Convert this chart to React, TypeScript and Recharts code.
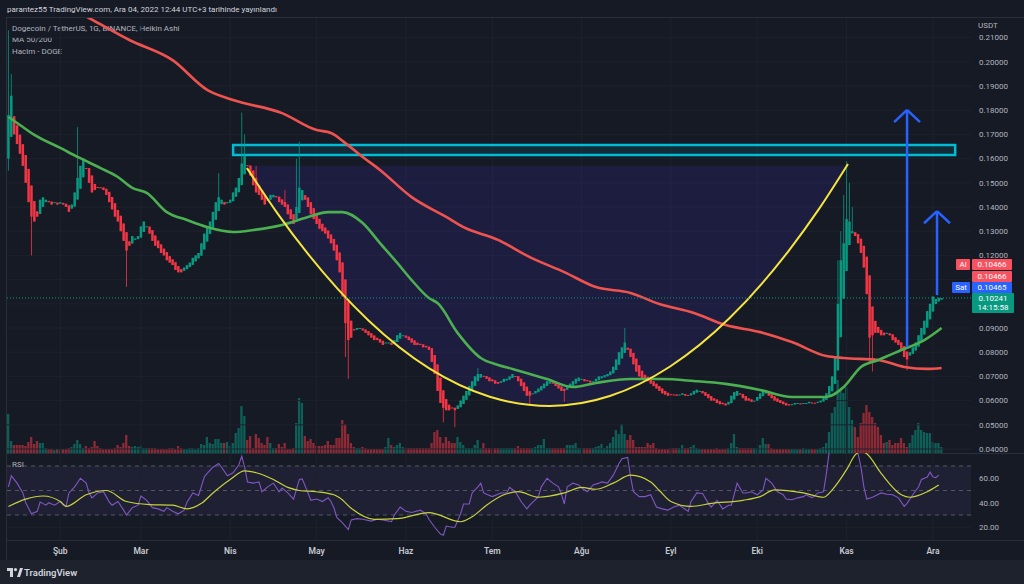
import React from 'react'
import { ComposedChart, Bar, Line, Area, XAxis, YAxis, ReferenceLine, ReferenceArea, Cell } from 'recharts'

// day index = days since 1 Jan 2022; first candle 14 Jan (13), last 4 Dec (337)
const FIRST_DAY = 13
const FIRST_OPEN = 0.16

// Heikin Ashi closes, one per day
const CLOSES = [
  0.178, 0.186, 0.170, 0.166, 0.162, 0.157, 0.150, 0.142, 0.136, 0.134,
  0.136, 0.143, 0.144, 0.143, 0.142, 0.141, 0.142, 0.141, 0.142, 0.141,
  0.140, 0.138, 0.141, 0.146, 0.152, 0.157, 0.160, 0.156, 0.150, 0.146,
  0.147, 0.148, 0.148, 0.147, 0.145, 0.142, 0.139, 0.136, 0.134, 0.130,
  0.126, 0.122, 0.124, 0.128, 0.127, 0.128, 0.132, 0.134, 0.132, 0.129,
  0.126, 0.124, 0.123, 0.121, 0.120, 0.118, 0.117, 0.116, 0.114, 0.113,
  0.113, 0.115, 0.116, 0.117, 0.119, 0.120, 0.121, 0.125, 0.129, 0.132,
  0.134, 0.138, 0.142, 0.144, 0.143, 0.141, 0.142, 0.143, 0.146, 0.148,
  0.152, 0.158, 0.161, 0.157, 0.153, 0.149, 0.146, 0.145, 0.143, 0.141,
  0.143, 0.145, 0.145, 0.144, 0.142, 0.141, 0.140, 0.137, 0.135, 0.133,
  0.140, 0.148, 0.147, 0.143, 0.140, 0.137, 0.135, 0.133, 0.131, 0.130,
  0.129, 0.127, 0.125, 0.122, 0.118, 0.113, 0.103, 0.092, 0.085, 0.086,
  0.089, 0.090, 0.090, 0.089, 0.088, 0.087, 0.086, 0.085, 0.085, 0.084,
  0.083, 0.084, 0.084, 0.083, 0.085, 0.087, 0.088, 0.087, 0.086, 0.085,
  0.084, 0.083, 0.083, 0.083, 0.082, 0.082, 0.081, 0.076, 0.071, 0.064,
  0.059, 0.057, 0.056, 0.056, 0.057, 0.056, 0.058, 0.060, 0.062, 0.064,
  0.066, 0.068, 0.070, 0.071, 0.071, 0.070, 0.069, 0.068, 0.068, 0.067,
  0.067, 0.068, 0.069, 0.069, 0.070, 0.071, 0.070, 0.068, 0.066, 0.064,
  0.062, 0.062, 0.063, 0.064, 0.065, 0.066, 0.067, 0.068, 0.068, 0.067,
  0.066, 0.065, 0.064, 0.064, 0.066, 0.067, 0.068, 0.069, 0.0695, 0.069,
  0.068, 0.068, 0.0675, 0.068, 0.069, 0.070, 0.070, 0.0705, 0.071, 0.072,
  0.074, 0.077, 0.080, 0.082, 0.084, 0.081, 0.078, 0.075, 0.072, 0.070,
  0.069, 0.069, 0.068, 0.067, 0.066, 0.065, 0.064, 0.063, 0.0625, 0.062,
  0.0625, 0.0625, 0.062, 0.0625, 0.063, 0.062, 0.062, 0.063, 0.064, 0.0645,
  0.064, 0.063, 0.062, 0.061, 0.060, 0.060, 0.059, 0.0585, 0.0585, 0.058,
  0.0595, 0.062, 0.0635, 0.064, 0.0625, 0.061, 0.060, 0.060, 0.0595, 0.060,
  0.0615, 0.063, 0.064, 0.0635, 0.062, 0.061, 0.060, 0.0595, 0.059, 0.0585,
  0.058, 0.058, 0.0585, 0.059, 0.059, 0.0585, 0.059, 0.059, 0.0595, 0.059,
  0.059, 0.0595, 0.060, 0.061, 0.063, 0.066, 0.070, 0.078, 0.100, 0.118,
  0.125, 0.135, 0.134, 0.130, 0.128, 0.125, 0.121, 0.115, 0.104, 0.086,
  0.087, 0.088, 0.088, 0.087, 0.087, 0.088, 0.087, 0.085, 0.084, 0.083,
  0.081, 0.078, 0.077, 0.080, 0.082, 0.084, 0.087, 0.090, 0.093, 0.097,
  0.100, 0.103, 0.102, 0.1025, 0.10241,
]

// volume, in units of ~1px of pane height
const VOLUMES = [
  39, 12, 8, 8, 8, 8, 7, 11, 16, 9,
  12, 10, 10, 5, 4, 4, 3, 4, 4, 4,
  4, 5, 6, 9, 13, 9, 5, 7, 5, 6,
  12, 7, 5, 4, 4, 4, 4, 5, 8, 6,
  10, 18, 7, 6, 7, 6, 7, 5, 5, 5,
  5, 5, 4, 4, 4, 4, 5, 5, 4, 7,
  5, 4, 4, 5, 5, 4, 5, 9, 8, 16,
  10, 9, 14, 14, 10, 10, 11, 7, 10, 20,
  25, 47, 37, 13, 17, 5, 19, 15, 10, 8,
  16, 10, 5, 5, 9, 6, 10, 4, 4, 5,
  30, 55, 50, 17, 12, 14, 10, 7, 7, 7,
  8, 12, 8, 8, 15, 15, 33, 29, 19, 10,
  6, 5, 5, 6, 5, 4, 4, 4, 4, 4,
  4, 6, 15, 8, 6, 8, 10, 6, 5, 5,
  5, 5, 5, 5, 5, 5, 5, 10, 21, 23,
  16, 10, 16, 12, 10, 10, 16, 11, 8, 5,
  5, 5, 8, 13, 5, 10, 5, 5, 5, 5,
  5, 5, 5, 5, 5, 5, 5, 7, 5, 5,
  5, 5, 5, 6, 8, 8, 14, 5, 5, 5,
  5, 5, 5, 5, 8, 8, 8, 10, 5, 5,
  5, 5, 5, 5, 6, 7, 9, 5, 7, 10,
  16, 23, 19, 29, 19, 13, 18, 13, 6, 6,
  6, 6, 10, 8, 10, 5, 4, 4, 4, 4,
  5, 5, 5, 5, 8, 5, 5, 6, 8, 5,
  4, 4, 4, 4, 4, 4, 5, 4, 4, 4,
  5, 10, 19, 6, 5, 5, 5, 5, 5, 5,
  5, 8, 15, 9, 9, 5, 4, 4, 4, 4,
  4, 4, 4, 4, 4, 4, 5, 4, 4, 4,
  4, 4, 5, 6, 10, 21, 40, 46, 73, 63,
  60, 66, 46, 33, 26, 16, 30, 40, 48, 41,
  36, 30, 26, 18, 10, 11, 13, 8, 10, 10,
  15, 10, 6, 10, 18, 23, 30, 23, 21, 20,
  20, 11, 10, 10, 6,
]

// notable wicks [day, price]
const WICK_HIGH = [
  [13, 0.213], [14, 0.195], [37, 0.173], [86, 0.154], [94, 0.179], [95, 0.170], [99, 0.157],
  [109, 0.147], [113, 0.160], [114, 0.167], [176, 0.0735], [227, 0.090], [301, 0.118],
  [302, 0.130], [303, 0.145], [304, 0.159], [305, 0.150], [306, 0.140],
]
const WICK_LOW = [
  [13, 0.155], [21, 0.120], [54, 0.107], [130, 0.078], [131, 0.069], [164, 0.051],
  [168, 0.049], [194, 0.058], [206, 0.0595], [312, 0.075], [313, 0.072], [325, 0.0725],
]

const MA50 = [
  [13, 0.1772], [17, 0.1739], [22, 0.1698], [31, 0.1644], [37, 0.1607], [45, 0.1561], [51, 0.1524],
  [56, 0.1479], [61, 0.1458], [68, 0.1379], [75, 0.1346], [82, 0.1317], [91, 0.1297], [98, 0.1305],
  [108, 0.1326], [117, 0.1359], [124, 0.1379], [129, 0.1379], [136, 0.1334], [142, 0.1251],
  [148, 0.1169], [153, 0.1098], [159, 0.1024], [162, 0.1003], [169, 0.0879], [177, 0.0776],
  [183, 0.0747], [188, 0.0731], [200, 0.0689], [209, 0.0656], [217, 0.0673], [229, 0.0689],
  [240, 0.0689], [251, 0.0681], [262, 0.0669], [274, 0.0644], [285, 0.0615], [297, 0.0615],
  [303, 0.0656], [309, 0.0739], [315, 0.0768], [323, 0.0809], [331, 0.085], [337, 0.09],
]

const MA200 = [
  [13, 0.236], [27, 0.227], [41, 0.2181], [55, 0.209], [70, 0.2007], [82, 0.1884], [91, 0.1842],
  [108, 0.1788], [120, 0.1718], [125, 0.1706], [130, 0.1664], [136, 0.1607], [142, 0.1553],
  [153, 0.1441], [165, 0.1359], [171, 0.1317], [183, 0.1264], [194, 0.1193], [206, 0.1131],
  [217, 0.1069], [229, 0.1045], [239, 0.0999], [251, 0.0962], [262, 0.0912], [274, 0.0883],
  [285, 0.0842], [297, 0.0784], [303, 0.0776], [315, 0.0768], [324, 0.0739], [332, 0.0731],
  [337, 0.0735],
]

const RSI = [
  [13, 53], [14, 62], [16, 56], [18, 48], [19, 40], [21, 31], [23, 33], [24, 40.5], [26, 38],
  [27, 40], [29, 38], [31, 41], [33, 37], [34, 48], [36, 53], [38, 60], [40, 56], [41, 48],
  [42, 44], [44, 48], [46, 49], [48, 40.5], [49, 38], [51, 41], [53, 34], [54, 30], [56, 36],
  [58, 38], [59, 45.5], [61, 42], [63, 36], [65, 35], [67, 33], [68, 36], [70, 33], [72, 31],
  [74, 34], [75, 40.5], [77, 48], [79, 46], [81, 61], [82, 64], [84, 69], [86, 72], [87, 69],
  [89, 62], [91, 64.5], [93, 71], [94, 78], [95, 69], [96, 57], [98, 56], [100, 57], [101, 49],
  [103, 53], [105, 56], [107, 49], [108, 52], [110, 48], [112, 43], [114, 59], [115, 59.5],
  [117, 48], [118, 42], [120, 43], [122, 41], [124, 44], [125, 41], [126, 36], [127, 28],
  [129, 23.5], [131, 18], [132, 26], [134, 27], [136, 26.5], [139, 25], [141, 26.5], [143, 26],
  [146, 24.5], [147, 30], [149, 36.5], [151, 33], [153, 32], [156, 34], [158, 31], [159, 26.5],
  [161, 20], [163, 14.5], [164, 13.5], [165, 21], [167, 20], [168, 20], [170, 31], [171, 39],
  [173, 39], [174, 48], [176, 53], [177, 56], [178, 48], [180, 46], [181, 45], [184, 48],
  [186, 48], [187, 52.5], [189, 49], [191, 41], [193, 35], [194, 38], [197, 45], [198, 53],
  [200, 60], [202, 56], [204, 53], [205, 47], [206, 39], [207, 53], [209, 56], [211, 54.5],
  [212, 52], [214, 49], [216, 54.5], [218, 56], [219, 57], [221, 56], [223, 62.5], [225, 72],
  [226, 76], [228, 77], [229, 61], [230, 49], [232, 45], [234, 45], [236, 46.5], [238, 36.5],
  [240, 35], [242, 34], [244, 36.5], [246, 38], [249, 33], [250, 41], [252, 48], [254, 47.5],
  [256, 39.5], [257, 36.5], [259, 42], [261, 35], [263, 38], [264, 38], [266, 56], [268, 48],
  [269, 48], [271, 49], [273, 46.5], [275, 50.5], [276, 60], [278, 56], [280, 49], [282, 46.5],
  [283, 43], [285, 42.5], [287, 44], [289, 45], [290, 46.5], [292, 44], [294, 48], [296, 49],
  [297, 64], [298, 82], [299, 86], [300, 89], [301, 91], [302, 92], [303, 93], [304, 92],
  [305, 90], [306, 87], [307, 84], [308, 80], [309, 69], [310, 53], [311, 43], [313, 44.5],
  [316, 48], [318, 47], [320, 46.5], [322, 44], [324, 37], [325, 39.5], [327, 46.5], [329, 53],
  [330, 59], [332, 61], [333, 65], [334, 61], [335, 60.5], [336, 62.5],
]

const RSI_MA = [
  [13, 37], [19, 43], [25, 45.5], [31, 41], [33, 37], [40, 46.5], [47, 50], [54, 41], [62, 38.5],
  [70, 38], [75, 35], [80, 39.5], [84, 48], [90, 59], [95, 66], [99, 64.5], [105, 59], [110, 52.5],
  [114, 50], [120, 49], [126, 46.5], [128, 44], [132, 35.5], [140, 26.5], [148, 27], [159, 32],
  [170, 24.5], [174, 28.5], [179, 38], [185, 46.5], [190, 49], [197, 44.5], [206, 48], [212, 52.5],
  [217, 51], [223, 56], [229, 62.5], [236, 57], [239, 50], [243, 41], [250, 37], [257, 39.5],
  [268, 42], [274, 45], [279, 50.5], [289, 48], [296, 44.5], [299, 50.5], [304, 67], [307, 79],
  [309, 82], [311, 80], [316, 64], [323, 46.5], [326, 44.5], [332, 49], [336, 54.5],
]

// cup drawing, points read along the yellow arc [day, price]
const CUP = [
  [95.8, 0.1561], [106.4, 0.1374], [117.0, 0.1206], [138.1, 0.093], [159.1, 0.0733],
  [180.1, 0.0616], [200.9, 0.0578], [221.8, 0.0619], [242.6, 0.074], [263.3, 0.094],
  [283.9, 0.1219], [294.2, 0.1388], [304.5, 0.1578],
]
const CUP_TOP = 0.157

const BOX = { from: 91, to: 341.7, low: 0.1615, high: 0.1656 }
const ARROWS = [
  { d: 325, from: 0.0821, to: 0.1801, wing: 4.5, drop: 0.005 },
  { d: 335.4, from: 0.1036, to: 0.1383, wing: 4.5, drop: 0.005 },
]
const LAST_PRICE = 0.10241

const MONTH_DAYS = [31, 59, 90, 120, 151, 181, 212, 243, 273, 304, 334]
const MONTH_LABELS = ['Şub', 'Mar', 'Nis', 'May', 'Haz', 'Tem', 'Ağu', 'Eyl', 'Eki', 'Kas', 'Ara']
const PRICE_TICKS = [0.04, 0.05, 0.06, 0.07, 0.08, 0.09, 0.1, 0.11, 0.12, 0.13, 0.14, 0.15, 0.16, 0.17, 0.18, 0.19, 0.2, 0.21]
const PRICE_LABELS = [0.04, 0.05, 0.06, 0.07, 0.08, 0.09, 0.12, 0.13, 0.14, 0.15, 0.16, 0.17, 0.18, 0.19, 0.2, 0.21]
const RSI_TICKS = [20, 40, 60]

const X_MIN = 12.5
const X_MAX = 347.2
const P_MIN = 0.03835
const P_MAX = 0.2181
const RSI_MIN = 9.6
const RSI_MAX = 80.6

const BG = '#161a25'
const GRID = '#1e222d'
const BORDER = '#2a2e39'
const TEXT = '#b2b5be'
const UP = '#089981'
const DOWN = '#f23645'
const FONT = 'Roboto, "Noto Sans", sans-serif'

const highs = new Map(WICK_HIGH.map(([d, v]) => [d, v]))
const lows = new Map(WICK_LOW.map(([d, v]) => [d, v]))
const candles: any[] = []
CLOSES.forEach((close, i) => {
  const prev = candles[i - 1]
  const open = prev ? (prev.open + prev.close) / 2 : FIRST_OPEN
  const d = FIRST_DAY + i
  const high = Math.max(open, close, highs.get(d) ?? 0)
  const low = Math.min(open, close, lows.get(d) ?? 1)
  candles.push({ d, open, close, high, low, vol: VOLUMES[i], up: close >= open })
})

const pairs = (list: number[][]) => list.map(([d, v]) => ({ d, v }))
const cupData = CUP.map(([d, p]) => ({ d, v: p, band: [p, CUP_TOP] }))

function Candle(props: any) {
  const { x, y, width, height, payload } = props
  if (!payload || x == null || y == null) return null
  let top = y
  let h = height || 0
  if (h < 0) {
    top = y + h
    h = -h
  }
  const span = payload.high - payload.low
  const k = span > 0 ? h / span : 0
  const cx = x + width / 2
  const yO = top + (payload.high - payload.open) * k
  const yC = top + (payload.high - payload.close) * k
  const color = payload.up ? UP : DOWN
  return (
    <g>
      <line x1={cx} x2={cx} y1={top} y2={top + h} stroke={color} strokeWidth={1} strokeOpacity={0.8} />
      <rect x={cx - 1.25} y={Math.min(yO, yC)} width={2.5} height={Math.max(1, Math.abs(yO - yC))} fill={color} />
    </g>
  )
}

function AxisTick({ x, y, payload, digits }: any) {
  return (
    <text x={x} y={y} dy="0.35em" fill={TEXT} fontSize={8} fontFamily={FONT} textAnchor="start">
      {Number(payload.value).toFixed(digits)}
    </text>
  )
}

function MonthTick({ x, y, payload }: any) {
  const i = MONTH_DAYS.indexOf(payload.value)
  return (
    <text x={x} y={y + 3} dy="0.35em" fill="#c5c8d0" fontSize={8.5} fontWeight={600} fontFamily={FONT} textAnchor="middle">
      {MONTH_LABELS[i]}
    </text>
  )
}

function Badge({ x, y, w, h, fill, lines }: any) {
  return (
    <g>
      <rect x={x} y={y} width={w} height={h} fill={fill} rx={1} />
      {lines.map((t: string, i: number) => (
        <text key={i} x={x + w / 2} y={y + 5.5 + i * 9} dy="0.35em" fill="#ffffff" fontSize={8} fontFamily={FONT} textAnchor="middle">
          {t}
        </text>
      ))}
    </g>
  )
}

function PriceBadges({ viewBox }: any) {
  if (!viewBox) return null
  const right = viewBox.x + viewBox.width
  const y = viewBox.y
  return (
    <g>
      <Badge x={right - 15} y={y - 39} w={14} h={11} fill="#f7525f" lines={['Al']} />
      <Badge x={right + 1} y={y - 39} w={40} h={11} fill="#f7525f" lines={['0.10466']} />
      <Badge x={right + 1} y={y - 27} w={40} h={11} fill="#f7525f" lines={['0.10466']} />
      <Badge x={right - 19} y={y - 16} w={18} h={11} fill="#2962ff" lines={['Sat']} />
      <Badge x={right + 1} y={y - 16} w={40} h={11} fill="#2962ff" lines={['0.10465']} />
      <Badge x={right + 1} y={y - 5} w={42} h={20} fill={UP} lines={['0.10241', '14:15:58']} />
    </g>
  )
}

export default function App() {
  const textBase: any = { position: 'absolute', fontFamily: FONT, whiteSpace: 'nowrap' }
  return (
    <div style={{ position: 'fixed', left: 0, top: 0, width: 1024, height: 584, background: BG, overflow: 'hidden' }}>
      <div style={{ ...textBase, left: 7, top: 5, fontSize: 8, lineHeight: '10px', color: '#d1d4dc' }}>
        parantez55 TradingView.com, Ara 04, 2022 12:44 UTC+3 tarihinde yayınlandı
      </div>
      <div style={{ position: 'absolute', left: 7, top: 17, width: 1017, height: 1, background: BORDER }} />
      <div style={{ position: 'absolute', left: 6, top: 17, width: 1, height: 543, background: BORDER }} />
      <div style={{ position: 'absolute', left: 7, top: 453, width: 1017, height: 1, background: BORDER }} />
      <div style={{ position: 'absolute', left: 7, top: 540, width: 1017, height: 1, background: BORDER }} />

      <div style={{ ...textBase, left: 12, top: 23, fontSize: 8, lineHeight: '11.3px', color: TEXT }}>
        <div>Dogecoin / TetherUS, 1G, BINANCE, Heikin Ashi</div>
        <div>MA 50/200</div>
        <div>Hacim - DOGE</div>
      </div>
      <div style={{ ...textBase, left: 978, top: 21, fontSize: 8, lineHeight: '10px', color: TEXT }}>USDT</div>
      <div style={{ ...textBase, left: 12, top: 460, fontSize: 8, lineHeight: '10px', color: TEXT }}>RSI</div>

      {/* grid + volume */}
      <div style={{ position: 'absolute', left: 7, top: 18 }}>
        <ComposedChart width={964} height={435} data={candles} margin={{ top: 0, right: 0, bottom: 0, left: 0 }}>
          <XAxis dataKey="d" type="number" domain={[X_MIN, X_MAX]} allowDataOverflow hide />
          <YAxis yAxisId="p" type="number" domain={[P_MIN, P_MAX]} allowDataOverflow hide />
          <YAxis yAxisId="v" type="number" domain={[0, 435]} allowDataOverflow hide />
          {PRICE_TICKS.map((t) => (
            <ReferenceLine key={'h' + t} yAxisId="p" y={t} stroke={GRID} strokeWidth={1} />
          ))}
          {MONTH_DAYS.map((m) => (
            <ReferenceLine key={'v' + m} yAxisId="p" x={m} stroke={GRID} strokeWidth={1} />
          ))}
          <Bar yAxisId="v" dataKey="vol" barSize={2.3} isAnimationActive={false}>
            {candles.map((c) => (
              <Cell key={c.d} fill={c.up ? UP : DOWN} fillOpacity={0.55} />
            ))}
          </Bar>
        </ComposedChart>
      </div>

      {/* price pane */}
      <div style={{ position: 'absolute', left: 7, top: 18 }}>
        <ComposedChart width={1017} height={435} data={candles} margin={{ top: 0, right: 0, bottom: 0, left: 0 }}>
          <XAxis dataKey="d" type="number" domain={[X_MIN, X_MAX]} allowDataOverflow hide />
          <YAxis
            yAxisId="p"
            orientation="right"
            width={53}
            type="number"
            domain={[P_MIN, P_MAX]}
            allowDataOverflow
            ticks={PRICE_LABELS}
            interval={0}
            axisLine={false}
            tickLine={false}
            tick={<AxisTick digits={5} />}
          />
          <Area
            yAxisId="p"
            data={cupData}
            dataKey="band"
            type="monotone"
            stroke="none"
            fill="#3b2fa8"
            fillOpacity={0.2}
            isAnimationActive={false}
          />
          <ReferenceArea
            yAxisId="p"
            x1={BOX.from}
            x2={BOX.to}
            y1={BOX.low}
            y2={BOX.high}
            fill="#00bcd4"
            fillOpacity={0.1}
            stroke="#00bcd4"
            strokeWidth={2.5}
          />
          <Bar yAxisId="p" dataKey={(e: any) => [e.low, e.high]} barSize={2} shape={<Candle />} isAnimationActive={false} />
          <Line yAxisId="p" data={pairs(MA200)} dataKey="v" type="monotone" stroke="#ef5350" strokeWidth={2.6} dot={false} activeDot={false} isAnimationActive={false} />
          <Line yAxisId="p" data={pairs(MA50)} dataKey="v" type="monotone" stroke="#4caf50" strokeWidth={2.6} dot={false} activeDot={false} isAnimationActive={false} />
          <Line yAxisId="p" data={cupData} dataKey="v" type="monotone" stroke="#f5e53c" strokeWidth={2} dot={false} activeDot={false} isAnimationActive={false} />
          {ARROWS.map((a, i) => (
            <ReferenceLine key={'s' + i} yAxisId="p" segment={[{ x: a.d, y: a.from }, { x: a.d, y: a.to }]} stroke="#2962ff" strokeWidth={2.5} />
          ))}
          {ARROWS.map((a, i) => (
            <ReferenceLine key={'l' + i} yAxisId="p" segment={[{ x: a.d - a.wing, y: a.to - a.drop }, { x: a.d, y: a.to }]} stroke="#2962ff" strokeWidth={2.5} />
          ))}
          {ARROWS.map((a, i) => (
            <ReferenceLine key={'r' + i} yAxisId="p" segment={[{ x: a.d, y: a.to }, { x: a.d + a.wing, y: a.to - a.drop }]} stroke="#2962ff" strokeWidth={2.5} />
          ))}
          <ReferenceLine yAxisId="p" y={LAST_PRICE} stroke={UP} strokeWidth={1} strokeDasharray="1 2" label={<PriceBadges />} />
        </ComposedChart>
      </div>

      {/* RSI pane + time axis */}
      <div style={{ position: 'absolute', left: 7, top: 453 }}>
        <ComposedChart width={1017} height={107} margin={{ top: 0, right: 0, bottom: 0, left: 0 }}>
          <XAxis
            dataKey="d"
            type="number"
            domain={[X_MIN, X_MAX]}
            allowDataOverflow
            ticks={MONTH_DAYS}
            interval={0}
            height={20}
            axisLine={false}
            tickLine={false}
            tick={<MonthTick />}
          />
          <YAxis
            orientation="right"
            width={53}
            type="number"
            domain={[RSI_MIN, RSI_MAX]}
            allowDataOverflow
            ticks={RSI_TICKS}
            interval={0}
            axisLine={false}
            tickLine={false}
            tick={<AxisTick digits={2} />}
          />
          {RSI_TICKS.map((t) => (
            <ReferenceLine key={'rh' + t} y={t} stroke={GRID} strokeWidth={1} />
          ))}
          {MONTH_DAYS.map((m) => (
            <ReferenceLine key={'rv' + m} x={m} stroke={GRID} strokeWidth={1} />
          ))}
          <ReferenceArea y1={30} y2={70} fill="#7e57c2" fillOpacity={0.1} stroke="none" />
          {[70, 50, 30].map((t) => (
            <ReferenceLine key={'rd' + t} y={t} stroke="#787b86" strokeOpacity={0.6} strokeDasharray="4 4" />
          ))}
          <Line data={pairs(RSI)} dataKey="v" type="linear" stroke="#7e57c2" strokeWidth={1.1} dot={false} activeDot={false} isAnimationActive={false} />
          <Line data={pairs(RSI_MA)} dataKey="v" type="monotone" stroke="#c8d23c" strokeWidth={1.2} dot={false} activeDot={false} isAnimationActive={false} />
        </ComposedChart>
      </div>

      {/* footer */}
      <div style={{ position: 'absolute', left: 0, top: 560, width: 1024, height: 24, background: '#1e222d' }}>
        <svg width={16} height={10} style={{ position: 'absolute', left: 7, top: 8 }}>
          <rect x={0} y={0} width={6} height={3} fill="#d1d4dc" />
          <rect x={3} y={0} width={3} height={9} fill="#d1d4dc" />
          <circle cx={8.5} cy={1.6} r={1.6} fill="#d1d4dc" />
          <polygon points="10,9 13,0 16,0 13,9" fill="#d1d4dc" />
        </svg>
        <div style={{ ...textBase, left: 24, top: 7, fontSize: 9.5, lineHeight: '11px', fontWeight: 600, color: '#d1d4dc' }}>
          TradingView
        </div>
      </div>
    </div>
  )
}
